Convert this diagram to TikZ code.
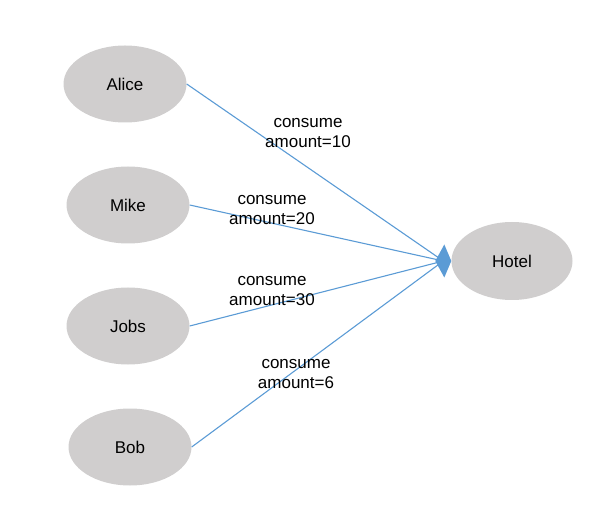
\documentclass[tikz,border=0pt]{standalone}
\usepackage{fontspec}
\setmainfont{Liberation Sans}
\usetikzlibrary{shapes.geometric,arrows.meta}
\definecolor{nodegray}{HTML}{D0CECE}
\definecolor{edgeblue}{HTML}{5B9BD5}
\begin{document}
\begin{tikzpicture}[x=1pt,y=-1pt,
  person/.style={ellipse,fill=nodegray,draw=none,minimum width=123pt,minimum height=77pt,inner sep=0pt,font=\fontsize{17}{20}\selectfont},
  rel/.style={draw=edgeblue,line width=1.1pt},
  tipmark/.style={fill=edgeblue,draw=none},
  lbl/.style={align=center,font=\fontsize{17}{20}\selectfont,inner sep=0pt}]
\useasboundingbox (0,0) rectangle (602,518);
\node[person] (alice) at (125,84) {Alice};
\node[person] (mike) at (128,205) {Mike};
\node[person] (jobs) at (128,326) {Jobs};
\node[person] (bob) at (130,447) {Bob};
\node[person,minimum width=121pt,minimum height=78pt] (hotel) at (512,261) {Hotel};
\coordinate (hub) at ([xshift=-8pt]hotel.west);
\draw[rel] (alice.east) -- (hub);
\draw[rel] (mike.east) -- (hub);
\draw[rel] (jobs.east) -- (hub);
\draw[rel] (bob.east) -- (hub);
\fill[tipmark] (hotel.west) -- ([shift={(-7pt,-16.5pt)}]hotel.west) -- ([xshift=-16pt]hotel.west) -- ([shift={(-7pt,16.5pt)}]hotel.west) -- cycle;
\node[lbl] (l1) at (308,133) {consume\\amount=10};
\node[lbl] (l2) at (272,210) {consume\\amount=20};
\node[lbl] (l3) at (272,291) {consume\\amount=30};
\node[lbl] (l4) at (296,374) {consume\\amount=6};
\end{tikzpicture}
\end{document}
